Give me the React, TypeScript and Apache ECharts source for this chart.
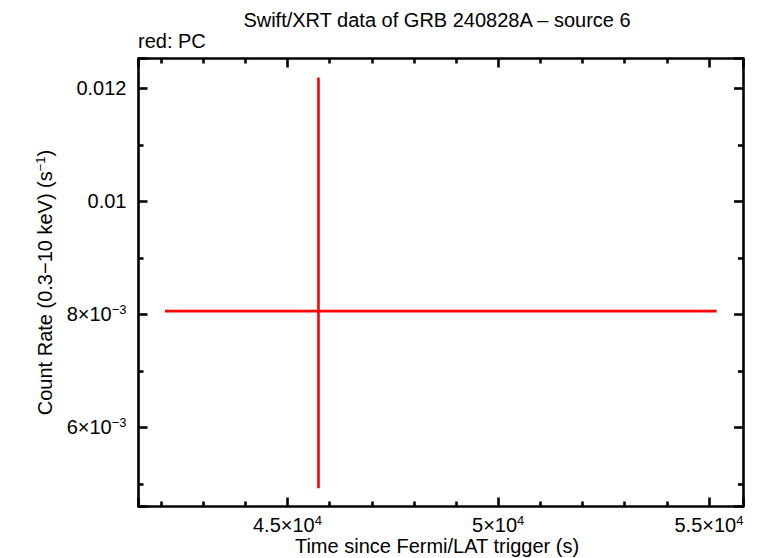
import React, { useEffect, useRef } from "react";
import * as echarts from "echarts";

// Data
const times = [45736];          // s since trigger
const timeStart = [42095];      // left end of x error bar
const timeEnd = [55183];        // right end of x error bar
const rates = [0.008058];       // count rate (s^-1)
const rateLow = [0.00492];      // lower end of y error bar
const rateHigh = [0.012195];    // upper end of y error bar

// Tick labels
const xTickValues = [45000, 50000, 55000];
const xTickMantissa = ["4.5", "5", "5.5"];
const xTickExponent = ["4", "4", "4"];
const yTickValues = [0.006, 0.008, 0.01, 0.012];
const yTickMain = ["6×10", "8×10", "0.01", "0.012"];
const yTickExponent = ["−3", "−3", "", ""];

const X_MIN = 41466;
const X_MAX = 55808;
const Y_MIN = 0.004598;
const Y_MAX = 0.01253;

const FONT = "Liberation Sans";
const FS = 20;

const rich = {
  n: { fontFamily: FONT, fontSize: FS, color: "#000" },
  s: { fontFamily: FONT, fontSize: 13, color: "#000", verticalAlign: "top", padding: [0, 0, 9, 0] },
};

function near(a: number, b: number) {
  return Math.abs(a - b) < 1e-9 * Math.max(1, Math.abs(b));
}

function xFormatter(v: number) {
  const i = xTickValues.findIndex((t) => Math.abs(t - v) < 1e-6);
  if (i < 0) return "";
  return `{n|${xTickMantissa[i]}×10}{s|${xTickExponent[i]}}`;
}
function yFormatter(v: number) {
  const i = yTickValues.findIndex((t) => near(t, v));
  if (i < 0) return "";
  return yTickExponent[i] ? `{n|${yTickMain[i]}}{s|${yTickExponent[i]}}` : `{n|${yTickMain[i]}}`;
}

const axisLine = { show: true, lineStyle: { color: "#000", width: 2.6 } };
const majorTick = { show: true, inside: true, length: 9, lineStyle: { color: "#000", width: 2.6 } };

export default function App() {
  const ref = useRef<HTMLDivElement>(null);
  useEffect(() => {
    const chart = echarts.init(ref.current!, null, { renderer: "svg", width: 758, height: 558 });
    const points = times.map((t, i) => [t, rates[i], timeStart[i], timeEnd[i], rateLow[i], rateHigh[i]]);
    chart.setOption({
      animation: false,
      backgroundColor: "#fff",
      grid: {
        left: 138.5,
        width: 604.5,
        top: 58.5,
        height: 448,
        containLabel: false,
        outerBoundsMode: "none",
      },
      graphic: [
        {
          type: "text",
          x: 437,
          y: 10,
          style: {
            text: "Swift/XRT data of GRB 240828A – source 6",
            font: `${FS}px ${FONT}`,
            fill: "#000",
            textAlign: "center",
            textVerticalAlign: "top",
          },
        },
        {
          type: "text",
          x: 138,
          y: 31,
          style: { text: "red: PC", font: `${FS}px ${FONT}`, fill: "#000", textVerticalAlign: "top" },
        },
        {
          type: "text",
          x: 437,
          y: 556,
          style: {
            text: "Time since Fermi/LAT trigger (s)",
            font: `${FS}px ${FONT}`,
            fill: "#000",
            textAlign: "center",
            textVerticalAlign: "bottom",
          },
        },
      ],
      xAxis: [
        {
          type: "value",
          min: X_MIN,
          max: X_MAX,
          splitNumber: 3,
          position: "bottom",
          axisLine,
          axisTick: majorTick,
          minorTick: { show: true, splitNumber: 5, length: 5, lineStyle: { color: "#000", width: 2.6 } },
          splitLine: { show: false },
          axisLabel: { margin: 7, formatter: xFormatter, rich, showMinLabel: true, showMaxLabel: true },
        },
        {
          type: "value",
          min: X_MIN,
          max: X_MAX,
          splitNumber: 3,
          position: "top",
          axisLine,
          axisTick: majorTick,
          minorTick: { show: true, splitNumber: 5, length: 5, lineStyle: { color: "#000", width: 2.6 } },
          splitLine: { show: false },
          axisLabel: { show: false },
        },
      ],
      yAxis: [
        {
          type: "value",
          min: Y_MIN,
          max: Y_MAX,
          splitNumber: 4,
          position: "left",
          axisLine,
          axisTick: majorTick,
          minorTick: { show: true, splitNumber: 2, length: 5, lineStyle: { color: "#000", width: 2.6 } },
          splitLine: { show: false },
          axisLabel: { margin: 12, formatter: yFormatter, rich },
          name: "Count Rate (0.3−10 keV) (s{s|−1})",
          nameLocation: "middle",
          nameGap: 83,
          nameTextStyle: { fontFamily: FONT, fontSize: FS, color: "#000", rich },
        },
        {
          type: "value",
          min: Y_MIN,
          max: Y_MAX,
          splitNumber: 4,
          position: "right",
          axisLine,
          axisTick: majorTick,
          minorTick: { show: true, splitNumber: 2, length: 5, lineStyle: { color: "#000", width: 2.6 } },
          splitLine: { show: false },
          axisLabel: { show: false },
        },
      ],
      series: [
        {
          type: "custom",
          xAxisIndex: 0,
          yAxisIndex: 0,
          data: points,
          encode: { x: [0, 2, 3], y: [1, 4, 5] },
          renderItem: (params: any, api: any) => {
            const x = api.value(0);
            const y = api.value(1);
            const c = api.coord([x, y]);
            const l = api.coord([api.value(2), y]);
            const r = api.coord([api.value(3), y]);
            const lo = api.coord([x, api.value(4)]);
            const hi = api.coord([x, api.value(5)]);
            const style = { stroke: "#ff0000", lineWidth: 2.6 };
            return {
              type: "group",
              children: [
                { type: "line", shape: { x1: l[0], y1: c[1], x2: r[0], y2: c[1] }, style },
                { type: "line", shape: { x1: c[0], y1: lo[1], x2: c[0], y2: hi[1] }, style },
              ],
            };
          },
        },
      ],
    });
    return () => chart.dispose();
  }, []);
  return <div ref={ref} style={{ width: 758, height: 558, position: "absolute", left: 0, top: 0 }} />;
}
